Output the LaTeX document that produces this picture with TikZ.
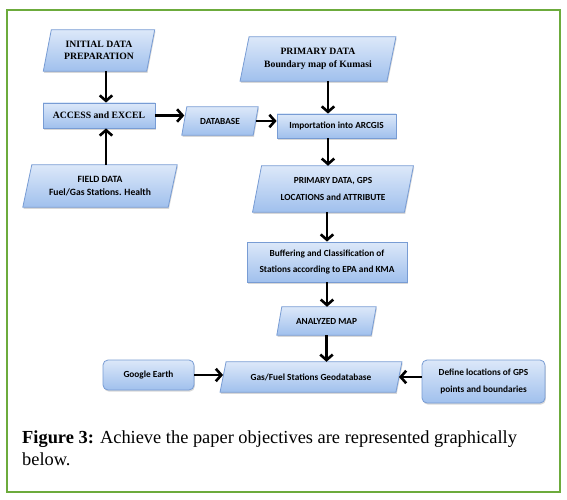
\documentclass[tikz,border=0pt]{standalone}
\usepackage{fontspec}
\setmainfont{Liberation Serif}
\newfontfamily\calfont{Carlito}
\usetikzlibrary{arrows.meta,shadows,backgrounds,calc}
\definecolor{boxtop}{RGB}{220,232,249}
\definecolor{boxbot}{RGB}{160,192,237}
\definecolor{boxline}{RGB}{120,156,212}
\definecolor{framegreen}{RGB}{108,171,60}
\newcommand\serfont{\bfseries\fontsize{9.7}{12.5}\selectfont}
\newcommand\sanfont{\calfont\bfseries\fontsize{9.3}{16.5}\selectfont}
\begin{document}
\begin{tikzpicture}[x=1pt,y=-1pt,
  fillstyle/.style={top color=boxtop,bottom color=boxbot,draw=boxline,line width=0.8pt,
    drop shadow={shadow xshift=0.8pt,shadow yshift=-1.6pt,opacity=0.3}},
  pbox/.style={inner sep=0pt,align=center},
  rbox/.style={fillstyle,inner sep=0pt,align=center},
  arr/.style={line width=2.6pt,-{Straight Barb[length=5.5pt,width=12.5pt]}}
]
\useasboundingbox (0,0) rectangle (567,500);

% parallelogram nodes (shape drawn on background layer)
\node[pbox,minimum width=103pt,minimum height=41pt,font=\serfont] (init) at (99,50.5) {INITIAL DATA\\PREPARATION};
\node[pbox,minimum width=145pt,minimum height=42pt,font=\calfont\bfseries\fontsize{9.6}{12.5}\selectfont] (field) at (100,186) {FIELD DATA\\Fuel/Gas Stations. Health};
\node[pbox,minimum width=71pt,minimum height=28pt,font=\sanfont] (database) at (220,121) {DATABASE};
\node[pbox,minimum width=146.5pt,minimum height=44pt,font=\bfseries\fontsize{9.7}{13.5}\selectfont] (primary) at (318,59) {PRIMARY DATA\\Boundary map of Kumasi};
\node[pbox,minimum width=151.5pt,minimum height=46pt,font=\sanfont] (gps) at (333,189) {PRIMARY DATA, GPS\\LOCATIONS and ATTRIBUTE};
\node[pbox,minimum width=94pt,minimum height=28pt,font=\sanfont] (analyzed) at (326.5,321) {ANALYZED MAP};
\node[pbox,minimum width=175.5pt,minimum height=30pt,font=\sanfont] (geo) at (311,377) {Gas/Fuel Stations Geodatabase};

% rectangle nodes
\node[rbox,minimum width=112pt,minimum height=25pt,font=\serfont] (access) at (99,115.5) {ACCESS and EXCEL};
\node[rbox,minimum width=119pt,minimum height=24pt,font=\sanfont] (import) at (336.5,126) {Importation into ARCGIS};
\node[rbox,minimum width=160pt,minimum height=40pt,font=\sanfont] (buffer) at (327,262) {Buffering and Classification of\\Stations according to EPA and KMA};
\node[rbox,rounded corners=5pt,minimum width=91pt,minimum height=30pt,font=\sanfont] (google) at (148.5,375) {Google Earth};
\node[rbox,rounded corners=5pt,minimum width=123pt,minimum height=43pt,font=\sanfont] (define) at (483.5,381.5) {Define locations of GPS\\points and boundaries};

\begin{scope}[on background layer]
\fill[white] (0,0) rectangle (567,500);
\draw[framegreen,line width=1.5pt] (7,10) rectangle (560,492);
\foreach \n/\s in {init/4,field/4.5,database/2.5,primary/4.5,gps/4.5,analyzed/2.5,geo/3}{
  \draw[fillstyle] ([xshift=-\s pt]\n.south west) -- ([xshift=-\s pt]\n.south east)
     -- ([xshift=\s pt]\n.north east) -- ([xshift=\s pt]\n.north west) -- cycle;
}
\end{scope}

% connectors
\draw[arr] ([xshift=7pt]init.south) -- ([xshift=7pt]access.north);
\draw[arr] ([xshift=6pt]field.north) -- ([xshift=7pt]access.south);
\draw[arr] (access.east) -- (access.east -| database.west);
\draw[arr] (database.east) -- (database.east -| import.west);
\draw[arr] ([xshift=10pt]primary.south) -- ([xshift=-8.5pt]import.north);
\draw[arr] ([xshift=-8.5pt]import.south) -- ([xshift=-5pt]gps.north);
\draw[arr] ([xshift=-6pt]gps.south) -- (buffer.north);
\draw[arr] (buffer.south) -- (buffer.south |- analyzed.north);
\draw[arr] (analyzed.south) -- (analyzed.south |- geo.north);
\draw[arr] (google.east) -- (google.east -| geo.west);
\draw[arr] (define.west |- geo.east) -- (geo.east);

% caption
\node[anchor=north west,align=left,inner sep=0pt,font=\fontsize{18.4}{22}\selectfont] (cap) at (22,431)
  {\textbf{Figure 3:} Achieve the paper objectives are represented graphically\\below.};
\end{tikzpicture}
\end{document}
